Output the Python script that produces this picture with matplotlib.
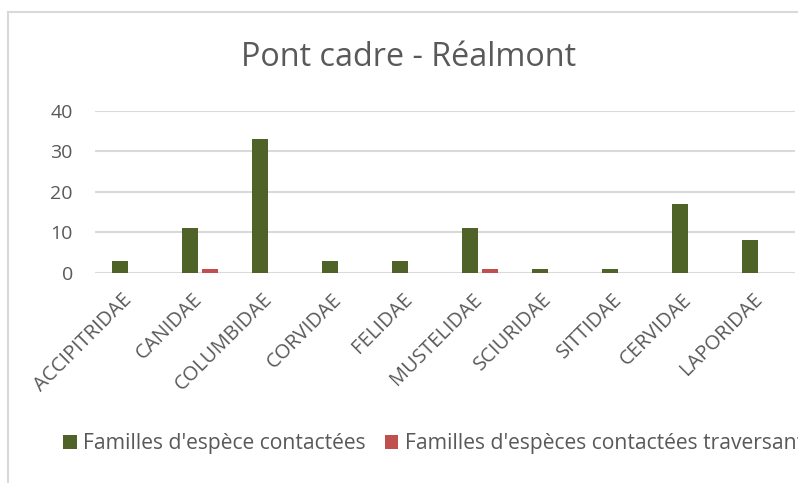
import numpy as np
import matplotlib.pyplot as plt
import matplotlib.transforms as mtransforms
from matplotlib.lines import Line2D

families = ["ACCIPITRIDAE", "CANIDAE", "COLUMBIDAE", "CORVIDAE", "FELIDAE",
            "MUSTELIDAE", "SCIURIDAE", "SITTIDAE", "CERVIDAE", "LAPORIDAE"]
contactees = [3, 11, 33, 3, 3, 11, 1, 1, 17, 8]
traversant = [0, 1, 0, 0, 0, 1, 0, 0, 0, 0]

plt.rcParams["font.family"] = ["Open Sans", "DejaVu Sans"]

W, H = 798, 483
fig = plt.figure(figsize=(W / 100, H / 100), dpi=100)
ax = fig.add_axes([95 / W, 1 - 272.7 / H, 700 / W, 162 / H])

x = np.arange(len(families))
w = 0.23
ax.bar(x - 0.14, contactees, w, color="#4F6228", label="Familles d'espèce contactées", zorder=3)
ax.bar(x + 0.14, traversant, w, color="#C0504D", label="Familles d'espèces contactées traversant", zorder=3)

ax.set_xlim(-0.5, len(families) - 0.5)
ax.set_ylim(0, 40)
ax.set_yticks([0, 10, 20, 30, 40])
ax.yaxis.grid(True, color="#D9D9D9", lw=1.5, zorder=0)
for s in ax.spines.values():
    s.set_visible(False)
ax.tick_params(length=0, colors="#595959", labelsize=14)
ax.tick_params(axis="y", pad=16)
ax.set_xticks(x)
ax.set_xticklabels(families, rotation=45, ha="right", va="top",
                   rotation_mode="anchor", fontsize=14.5)
shift = mtransforms.ScaledTranslation(-0.08, -0.12, fig.dpi_scale_trans)
for lab in ax.get_xticklabels():
    lab.set_transform(lab.get_transform() + shift)

fig.text(408.5 / W, 1 - 66 / H, "Pont cadre - Réalmont", ha="center", va="baseline",
         fontsize=23.3, color="#595959")

fig.legend(loc="center left", bbox_to_anchor=(63 / W, 1 - 444 / H), ncol=2,
           frameon=False, fontsize=15.2, handlelength=0.65, handleheight=0.65,
           handletextpad=0.32, columnspacing=0.88, borderpad=0, borderaxespad=0,
           labelcolor="#595959")

border = "#D9D9D9"
fig.add_artist(Line2D([8 / W, 8 / W], [0, 1 - 12 / H], color=border, lw=1.5, transform=fig.transFigure))
fig.add_artist(Line2D([8 / W, 1], [1 - 12 / H, 1 - 12 / H], color=border, lw=1.5, transform=fig.transFigure))

fig.savefig("out.png", dpi=100)
